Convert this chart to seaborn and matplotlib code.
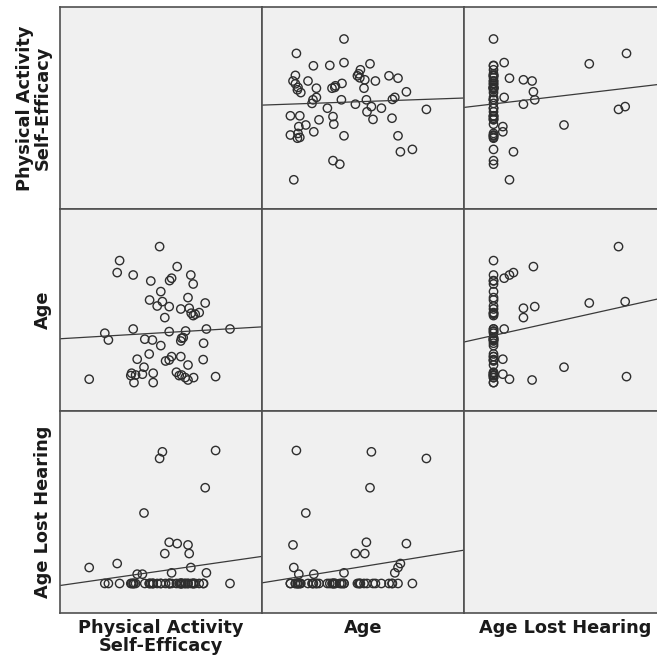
import numpy as np
import pandas as pd
import matplotlib
matplotlib.use("Agg")
import matplotlib.pyplot as plt
import seaborn as sns

# Participant scores (one entry per respondent)
pase = [42.5, 38.9, 35.8, 35.9, 36.6, 36.3, 34.8, 33.3, 32.8, 32.3,
        32.0, 30.2, 33.3, 32.7, 29.3, 27.9, 27.4, 33.4, 32.0, 31.3,
        30.4, 29.1, 32.0, 30.2, 31.4, 30.8, 30.2, 27.3, 27.9, 26.4,
        27.3, 26.2, 27.3, 25.6, 25.2, 24.3, 22.4, 22.7, 24.9, 25.2,
        23.3, 23.3, 22.3, 23.1, 21.2, 21.0, 20.6, 19.3, 18.5, 17.9,
        18.9, 18.3, 18.3, 14.3, 14.9, 12.1, 11.2, 7.3, 29.8, 33.8,
        17.7, 30.4]
age = [45.0, 21.2, 29.7, 37.9, 45.0, 58.0, 53.2, 51.7, 52.9, 55.4,
       60.7, 55.0, 67.5, 72.0, 76.2, 70.4, 69.2, 20.7, 19.5, 20.7,
       22.0, 23.4, 27.0, 31.2, 44.0, 40.7, 39.0, 29.5, 31.2, 29.0,
       43.7, 50.7, 56.2, 58.7, 63.7, 56.5, 59.5, 69.0, 86.2, 36.7,
       18.2, 22.9, 32.5, 39.5, 39.9, 25.9, 22.4, 29.9, 18.2, 22.9,
       22.0, 45.0, 72.0, 73.2, 79.2, 39.5, 42.9, 19.9, 21.7, 52.4,
       21.7, 40.4]
age_lost = [0, 20.0, 0, 0, 1.6, 14.4, 0, 0, 0, 4.5,
            0, 0, 0, 2.4, 6.0, 1.6, 0, 0, 5.8, 0,
            0, 0, 0, 0, 0, 0, 0, 0, 0, 0,
            0, 4.5, 6.2, 19.8, 0, 0, 0, 0, 18.8, 0,
            0, 0, 0, 0, 0, 10.6, 1.4, 1.4, 0, 0,
            0, 0, 0, 3.0, 0, 0, 0, 2.4, 0, 0,
            0, 0]

columns = ["pase", "age", "age_lost"]
labels = ["Physical Activity\nSelf-Efficacy", "Age", "Age Lost Hearing"]

df = pd.DataFrame({"pase": pase, "age": age, "age_lost": age_lost})

# Fixed axis ranges for each variable
limits = {"pase": (0.0, 50.5), "age": (4.0, 105.0), "age_lost": (-4.44, 25.94)}

W, H = 657, 663
fig = plt.figure(figsize=(W / 100, H / 100), dpi=100)
fig.patch.set_facecolor("white")

left_px, top_px, cell_px = 60, 7, 202
label_font = dict(fontsize=12.8, fontweight="bold", color="#1a1a1a",
                  family="DejaVu Sans")

for i, yv in enumerate(columns):
    for j, xv in enumerate(columns):
        x0 = (left_px + cell_px * j) / W
        y0 = 1 - (top_px + cell_px * (i + 1)) / H
        ax = fig.add_axes([x0, y0, cell_px / W, cell_px / H])
        ax.set_facecolor("#f0f0f0")
        ax.set_xlim(limits[xv])
        ax.set_ylim(limits[yv])
        if i != j:
            sns.regplot(data=df, x=xv, y=yv, ax=ax, scatter=False, ci=None,
                        truncate=False,
                        line_kws=dict(color="#3a3a3a", lw=0.9))
            sns.scatterplot(data=df, x=xv, y=yv, ax=ax, marker="o", s=36,
                            facecolors="none", edgecolor="#2e2e2e",
                            linewidth=1.0, legend=False)
            ax.collections[-1].set_facecolor("none")
        ax.set_xticks([])
        ax.set_yticks([])
        ax.set_xlabel("")
        ax.set_ylabel("")
        for sp in ax.spines.values():
            sp.set_color("#505050")
            sp.set_linewidth(1.2)
        if i == len(columns) - 1:
            ax.set_xlabel(labels[j], labelpad=4, linespacing=1.0, **label_font)
        if j == 0:
            ax.set_ylabel(labels[i], labelpad=6, linespacing=1.0, **label_font)

fig.savefig("out.png", dpi=100)
